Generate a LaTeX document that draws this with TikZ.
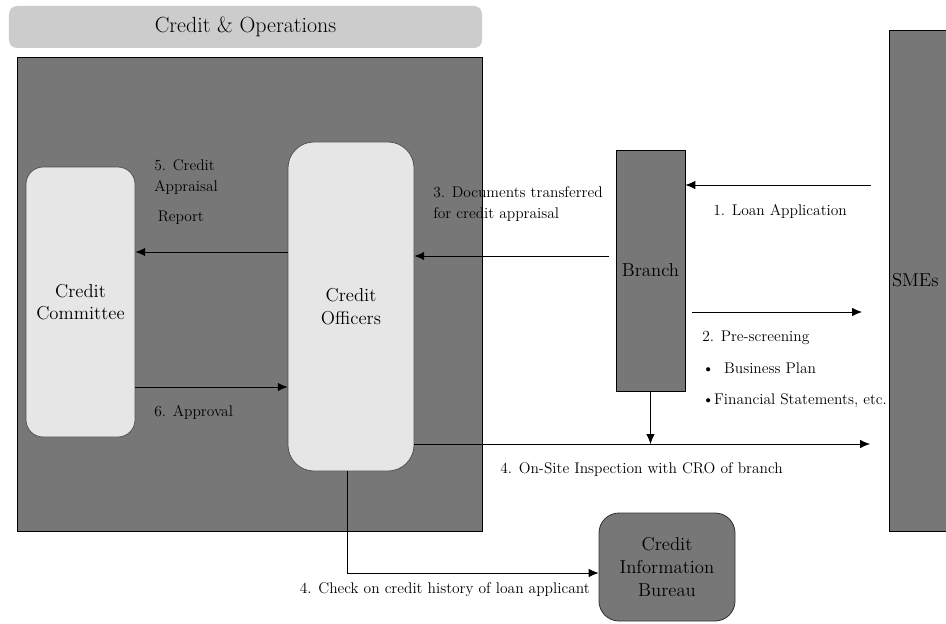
\documentclass[tikz,border=0pt]{standalone}
\usepackage{fontspec}
\usetikzlibrary{arrows.meta}
\definecolor{unitgray}{HTML}{777777}
\definecolor{deskgray}{HTML}{E6E6E6}
\definecolor{headgray}{HTML}{CCCCCC}
\tikzstyle{unit} = [rectangle, draw=black, line width=0.6pt, fill=unitgray, text centered, font=\fontsize{13.3}{16.2}\selectfont]
\tikzstyle{desk} = [rectangle, draw=black!70, line width=0.5pt, fill=deskgray, align=center, font=\fontsize{13.3}{16.2}\selectfont]
\tikzstyle{note} = [inner sep=0pt, align=left, anchor=west, font=\fontsize{11}{14.9}\selectfont]
\tikzstyle{arrow} = [line width=0.6pt,-{Latex[length=7pt,width=6pt]}]

\begin{document}
\begin{tikzpicture}
   \useasboundingbox (0,0) rectangle (23.65,15.575);
   \clip (0,0) rectangle (23.65,15.575);

   % title bar and department area
   \node (hdr) [rectangle, rounded corners=0.2cm, fill=headgray, minimum width=11.825cm, minimum height=1.05cm, font=\fontsize{15.6}{18}\selectfont] at (6.1375,14.9) {Credit \& Operations};
   \node (ops) [unit, minimum width=11.625cm, minimum height=11.85cm] at (6.2375,8.225) {};

   \node (com) [desk, rounded corners=0.43cm, minimum width=2.725cm, minimum height=6.75cm] at (2.0125,8.025) {Credit\\Committee};
   \node (off) [desk, rounded corners=0.65cm, minimum width=3.15cm, minimum height=8.225cm] at (8.775,7.9125) {Credit\\Officers};
   \node (bra) [unit, minimum width=1.725cm, minimum height=6.025cm] at (16.2625,8.8125) {Branch};
   \node (sme) [unit, minimum height=12.525cm, text width=2.875cm, inner xsep=0.075cm, align=left] at (23.7375,8.5625) {SMEs};
   \node (cib) [unit, draw=black!80, rounded corners=0.5cm, minimum width=3.4cm, minimum height=2.7cm, align=center] at (16.675,1.4) {Credit\\Information\\Bureau};

   % free ends of the connectors
   \coordinate (loan) at (21.775,10.95);
   \coordinate (pre1) at (17.3,7.775);
   \coordinate (pre2) at (21.55,7.775);
   \coordinate (docs) at (15.225,9.175);
   \coordinate (site) at (21.75,4.475);

   \draw [arrow] (loan) -- (bra.east |- loan);
   \draw [arrow] (pre1) -- (pre2);
   \draw [arrow] (docs) -- (off.east |- docs);
   \draw [arrow] (off.east |- site) -- (site);
   \draw [arrow] (bra.south) -- (bra.south |- site);
   \draw [arrow] (off.west |- 0,9.275) -- (com.east |- 0,9.275);
   \draw [arrow] (com.east |- 0,5.9) -- (off.west |- 0,5.9);
   \draw [arrow] ([xshift=-0.1cm]off.south) |- ([yshift=-0.15cm]cib.west);

   % connector labels
   \node (l1) [note] at (17.825,10.3) {1. Loan Application};
   \node (l2) [note, font=\fontsize{11}{22.4}\selectfont] at (17.55,6.3375) {2. Pre-screening\\\textbullet\ \ Business Plan\\\textbullet Financial Statements, etc.};
   \node (l3) [note] at (10.825,10.4625) {3. Documents transferred\\for credit appraisal};
   \node (l4) [note] at (12.5,3.825) {4. On-Site Inspection with CRO of branch};
   \node (l4b) [note, anchor=east] at (14.75,0.825) {4. Check on credit history of loan applicant};
   \node (l5) [note] at (3.85,10.775) {5. Credit\\Appraisal\\[6pt]\hspace{2.5pt}Report};
   \node (l6) [note] at (3.85,5.275) {6. Approval};
\end{tikzpicture}
\end{document}
